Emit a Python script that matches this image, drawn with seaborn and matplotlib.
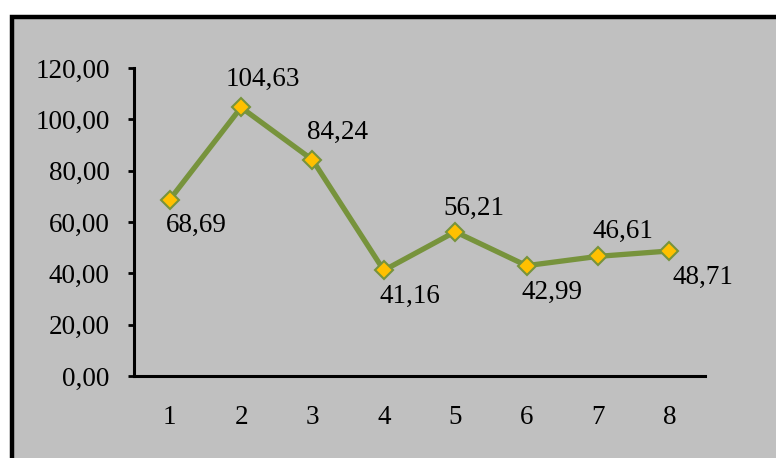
import matplotlib
matplotlib.use("Agg")
import matplotlib.pyplot as plt
import seaborn as sns
import pandas as pd
from matplotlib.patches import Rectangle

categories = [1, 2, 3, 4, 5, 6, 7, 8]
values = [68.69, 104.63, 84.24, 41.16, 56.21, 42.99, 46.61, 48.71]
labels = ["68,69", "104,63", "84,24", "41,16", "56,21", "42,99", "46,61", "48,71"]
y_ticks = [0, 20, 40, 60, 80, 100, 120]
y_tick_labels = ["0,00", "20,00", "40,00", "60,00", "80,00", "100,00", "120,00"]

sns.set_style("white")
plt.rcParams['font.family'] = ['Liberation Serif', 'DejaVu Serif']

FS = 19.5
W, H = 776, 458
fig = plt.figure(figsize=(W / 100, H / 100), dpi=100)
fig.patch.set_facecolor("white")
# outer frame
fig.patches.append(Rectangle((12 / W, -0.1), 1.2, 1 - 16.5 / H + 0.1, transform=fig.transFigure,
                             facecolor="#C0C0C0", edgecolor="black", linewidth=3.2, zorder=-10))

ax = fig.add_axes([134 / W, 1 - 376 / H, (705 - 134) / W, (376 - 68) / H])
ax.set_facecolor("none")
ax.set_zorder(5)

df = pd.DataFrame({"x": categories, "y": values})
sns.lineplot(data=df, x="x", y="y", ax=ax, color="#77933C", linewidth=3.8,
             marker="D", markersize=9, markerfacecolor="#FFC000",
             markeredgecolor="#77933C", markeredgewidth=1.5)

ax.set_xlim(0.5, 8.5)
ax.set_ylim(0, 120)
ax.set_yticks(y_ticks)
ax.set_yticklabels(y_tick_labels, fontsize=FS, color="black")
ax.set_xticks(categories)
ax.set_xticklabels([str(c) for c in categories], fontsize=FS, color="black")
ax.set_xlabel("")
ax.set_ylabel("")
for s in ["top", "right"]:
    ax.spines[s].set_visible(False)
for s in ["left", "bottom"]:
    ax.spines[s].set_linewidth(2.2)
    ax.spines[s].set_color("black")
ax.tick_params(axis="y", length=4.5, width=2, color="black", pad=13, left=True)
ax.tick_params(axis="x", length=0, pad=21)

offsets = [(27, -26), (22, 28), (25, 27), (26, -26), (19, 23), (25, -27), (25, 25), (34, -26)]
for x, y, lab, (dx, dy) in zip(categories, values, labels, offsets):
    ax.annotate(lab, (x, y), xytext=(dx * 0.72, dy * 0.72), textcoords="offset points",
                ha="center", va="center", fontsize=FS, color="black")

fig.savefig("out.png", dpi=100)
